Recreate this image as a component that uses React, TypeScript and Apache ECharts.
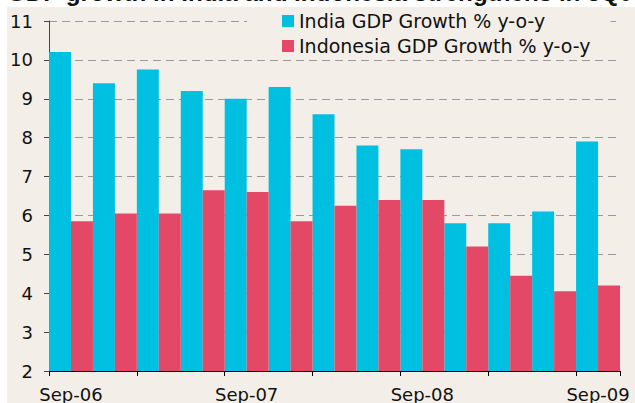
import React, { useEffect, useRef } from "react";
import * as echarts from "echarts";

const categories = ["Sep-06", "Dec-06", "Mar-07", "Jun-07", "Sep-07", "Dec-07", "Mar-08", "Jun-08", "Sep-08", "Dec-08", "Mar-09", "Jun-09", "Sep-09"];
const indiaGdp = [10.2, 9.4, 9.75, 9.2, 9.0, 9.3, 8.6, 7.8, 7.7, 5.8, 5.8, 6.1, 7.9];
const indonesiaGdp = [5.85, 6.05, 6.05, 6.65, 6.6, 5.85, 6.25, 6.4, 6.4, 5.2, 4.45, 4.05, 4.2];
const seriesNames = ["India GDP Growth % y-o-y", "Indonesia GDP Growth % y-o-y"];
const titleText = "GDP growth in India and Indonesia strengthens in 3Q09";
const yMin = 2;
const yMax = 11;
const yStep = 1;

const BG = "#F3EFE8";
const FONT = "DejaVu Sans";

export default function App() {
  const ref = useRef<HTMLDivElement>(null);
  useEffect(() => {
    if (!ref.current) return;
    const chart = echarts.init(ref.current, null, { renderer: "svg" });
    chart.setOption({
      animation: false,
      backgroundColor: "#ffffff",
      graphic: [
        {
          type: "rect",
          z: -10,
          silent: true,
          shape: { x: 7, y: 7, width: 628, height: 396 },
          style: { fill: BG },
        },
        {
          type: "text",
          z: 10,
          x: 7,
          y: -8,
          style: {
            text: titleText,
            font: "bold 24.2px 'Liberation Sans'",
            fill: "#111111",
            verticalAlign: "middle",
            align: "left",
          },
        },
      ],
      grid: { left: 49, right: 15, top: 21, bottom: 30, containLabel: false },
      legend: {
        orient: "vertical",
        left: 247,
        top: 7,
        backgroundColor: BG,
        padding: [4, 20, 4, 35],
        itemWidth: 12,
        itemHeight: 12,
        itemGap: 5,
        icon: "rect",
        textStyle: { fontFamily: FONT, fontSize: 19, lineHeight: 20, color: "#111111" },
        data: seriesNames,
      },
      xAxis: {
        type: "category",
        data: categories,
        boundaryGap: true,
        axisLine: { show: true, lineStyle: { color: "#000000", width: 1 } },
        axisTick: { show: true, interval: 1, length: 5, lineStyle: { color: "#000000" } },
        axisLabel: { interval: 3, fontFamily: FONT, fontSize: 18, color: "#111111", margin: 14 },
        splitLine: { show: false },
      },
      yAxis: {
        type: "value",
        min: yMin,
        max: yMax,
        interval: yStep,
        axisLine: { show: true, lineStyle: { color: "#444444", width: 1 } },
        axisTick: { show: true, length: 5, lineStyle: { color: "#444444" } },
        axisLabel: { fontFamily: FONT, fontSize: 18, color: "#111111", margin: 16 },
        splitLine: { show: true, lineStyle: { color: "#9a9a9a", width: 1, type: [8, 5] } },
      },
      series: [
        {
          name: seriesNames[0],
          type: "bar",
          data: indiaGdp,
          barGap: "0%",
          barCategoryGap: "0%",
          itemStyle: { color: "#00C0E2" },
        },
        {
          name: seriesNames[1],
          type: "bar",
          data: indonesiaGdp,
          barGap: "0%",
          barCategoryGap: "0%",
          itemStyle: { color: "#E34866" },
        },
      ],
    });
    return () => chart.dispose();
  }, []);
  return <div ref={ref} style={{ position: "fixed", left: 0, top: 0, width: 635, height: 403 }} />;
}
